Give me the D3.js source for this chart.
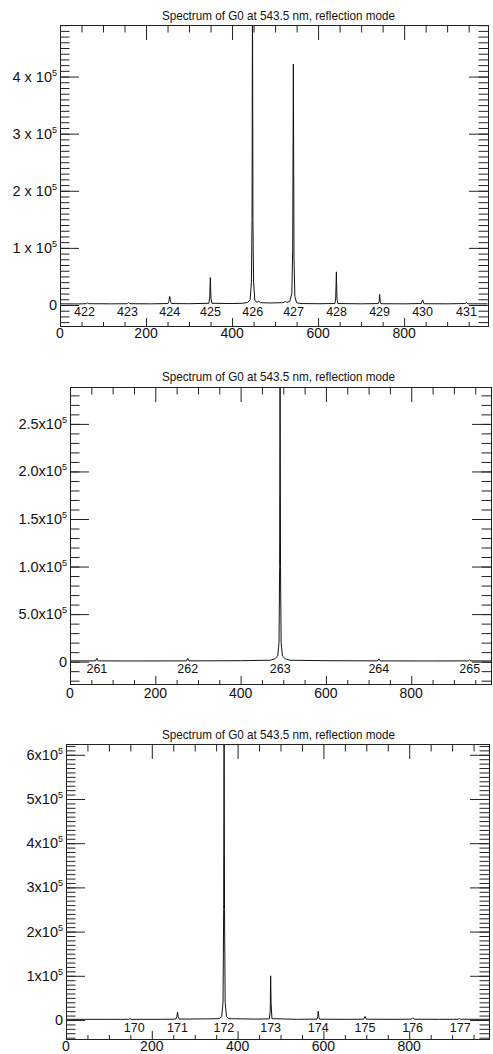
<!DOCTYPE html>
<html>
<head>
<meta charset="utf-8">
<script src="https://cdn.jsdelivr.net/npm/d3@7"></script>
<style>
body { margin: 0; background: #fff; }
svg { display: block; font-family: "Liberation Sans", Arial, sans-serif; }
</style>
</head>
<body>
<svg id="chart" width="493" height="1054"></svg>
<script>
// shared
var titleText = "Spectrum of G0 at 543.5 nm, reflection mode"
var xMajorTicks = [0, 200, 400, 600, 800]
var xMinorTicks = [50, 100, 150, 250, 300, 350, 450, 500, 550, 650, 700, 750, 850, 900, 950]

// panel 1 : 422 - 431
var lineLabels1 = ["422", "423", "424", "425", "426", "427", "428", "429", "430", "431"]
var linePos1    = [57, 157, 255, 350, 448, 543, 643, 743, 843, 945]
var yMajor1     = [0, 100000, 200000, 300000, 400000]
var yLabels1    = ["0", "1 x 10", "2 x 10", "3 x 10", "4 x 10"]
var spectrum1 = [
    [0, 2000], [40, 1800], [61, 2200], [64, 3500], [67, 2200],
    [120, 2000], [156, 2200], [159, 4500], [162, 2200],
    [210, 2000], [251, 2500], [253, 6000], [255, 15000], [257, 6000], [259, 2500],
    [300, 2200], [346, 3000], [348, 12000], [349.5, 48000], [351, 12000], [353, 3000],
    [400, 2500], [425, 3000], [436, 4500], [442, 9000], [445, 40000], [446.5, 150000], [447.5, 560000],
    [448.5, 150000], [450, 40000], [453, 8000], [458, 4500], [462, 6500], [466, 4000],
    [490, 3500], [515, 4000], [521, 4500], [524, 7000], [527, 4500], [534, 6000], [539, 20000],
    [541, 100000], [542.5, 422000], [544, 80000], [546, 15000], [550, 4000], [560, 2500],
    [600, 2200], [639, 2500], [641, 12000], [642.5, 58000], [644, 10000], [646, 2500],
    [700, 2000], [740, 2500], [742, 6000], [743, 18500], [744.5, 5000], [746, 2200],
    [800, 2000], [840, 2500], [843, 9000], [846, 2200],
    [900, 2000], [942, 2500], [945, 4500], [948, 2000], [994, 2000]
]

// panel 2 : 261 - 265
var lineLabels2 = ["261", "262", "263", "264", "265"]
var linePos2    = [63, 276, 493, 724, 937]
var yMajor2     = [0, 50000, 100000, 150000, 200000, 250000]
var yLabels2    = ["0", "5.0x10", "1.0x10", "1.5x10", "2.0x10", "2.5x10"]
var spectrum2 = [
    [0, 800], [60, 800], [63, 3500], [66, 800], [150, 700],
    [273, 800], [276, 3500], [279, 800],
    [400, 1000], [470, 1500], [480, 3000], [487, 6000], [490, 20000], [491.5, 100000],
    [492.5, 330000], [493.5, 100000], [495, 20000], [498, 6000], [505, 3000], [515, 1500], [600, 1000],
    [721, 800], [724, 3000], [727, 800], [850, 700], [934, 800], [937, 1800], [940, 800], [990, 700]
]

// panel 3 : 170 - 177
var lineLabels3 = ["170", "171", "172", "173", "174", "175", "176", "177"]
var linePos3    = [159, 260, 368, 477, 588, 697, 808, 919]
var yMajor3     = [0, 100000, 200000, 300000, 400000, 500000, 600000]
var yLabels3    = ["0", "1x10", "2x10", "3x10", "4x10", "5x10", "6x10"]
var spectrum3 = [
    [0, 1500], [100, 1500], [146, 1500], [149, 3500], [152, 1500], [220, 1500],
    [256, 2000], [258.5, 8000], [260, 18000], [261.5, 8000], [264, 2000],
    [330, 2500], [358, 3000], [363, 8000], [366, 40000], [367.5, 250000], [368.5, 700000],
    [369.5, 250000], [371, 40000], [374, 8000], [380, 3000],
    [440, 2000], [474, 2500], [476, 20000], [477, 100000], [478, 40000], [480, 3000],
    [540, 1500], [585, 2000], [587, 8000], [588, 20000], [589.5, 6000], [591, 1800],
    [650, 1500], [694, 1800], [697, 8000], [700, 1800], [760, 1500],
    [805, 1800], [808, 5000], [811, 1800], [870, 1500], [914, 1700], [917, 3000], [920, 1700], [990, 1500]
]

class SpectrumPanel
{
    constructor(config)
    {
        this.config = config
        this.id     = config.id
        this.left   = config.left
        this.right  = config.right
        this.top    = config.top
        this.bottom = config.bottom
    }

    build()
    {
        var c = this.config
        var svg = d3.select("#chart")
        var g = svg.append("g")

        var x = d3.scaleLinear().domain([0, c.xMax]).range([this.left, this.right])
        var y = d3.scaleLinear().domain([c.yMin, c.yMax]).range([this.bottom, this.top])

        svg.append("clipPath").attr("id", "clip" + this.id)
            .append("rect")
            .attr("x", this.left).attr("y", this.top)
            .attr("width", this.right - this.left).attr("height", this.bottom - this.top)

        // spectrum
        var line = d3.line().x(function(d){return x(d[0])}).y(function(d){return y(d[1])})
        g.append("path")
            .datum(c.spectrum)
            .attr("clip-path", "url(#clip" + this.id + ")")
            .attr("d", line)
            .attr("fill", "none")
            .attr("stroke", "#111")
            .attr("stroke-width", 1)

        var yMinor = d3.range(Math.ceil(c.yMin / 10000) * 10000, c.yMax, 10000)

        var addAxis = function(axis, tx, ty)
        {
            var a = g.append("g")
                .attr("transform", "translate(" + tx + "," + ty + ")")
                .call(axis)
            a.select(".domain").remove()
            a.selectAll("line").attr("stroke", "#222")
        }

        // left / right (ticks inward)
        addAxis(d3.axisRight(y).tickValues(yMinor).tickSize(9.5).tickFormat(""), this.left, 0)
        addAxis(d3.axisRight(y).tickValues(c.yMajor).tickSize(19).tickFormat(""), this.left, 0)
        addAxis(d3.axisLeft(y).tickValues(yMinor).tickSize(9.5).tickFormat(""), this.right, 0)
        addAxis(d3.axisLeft(y).tickValues(c.yMajor).tickSize(19).tickFormat(""), this.right, 0)
        // top / bottom
        addAxis(d3.axisBottom(x).tickValues(xMinorTicks).tickSize(7.5).tickFormat(""), 0, this.top)
        addAxis(d3.axisBottom(x).tickValues(xMajorTicks).tickSize(15).tickFormat(""), 0, this.top)
        addAxis(d3.axisTop(x).tickValues(xMinorTicks).tickSize(4).tickFormat(""), 0, this.bottom)
        addAxis(d3.axisTop(x).tickValues(xMajorTicks).tickSize(8).tickFormat(""), 0, this.bottom)

        // frame
        g.append("rect")
            .attr("x", this.left + 0.5).attr("y", this.top + 0.5)
            .attr("width", this.right - this.left).attr("height", this.bottom - this.top)
            .attr("fill", "none").attr("stroke", "#222").attr("stroke-width", 1)

        // x labels
        g.selectAll(".xlab")
            .data(xMajorTicks)
            .enter()
                .append("text")
                .attr("x", function(d){return x(d)})
                .attr("y", c.xLabelY)
                .attr("text-anchor", "middle")
                .attr("font-size", 14)
                .attr("fill", "#111")
                .text(function(d){return d})

        // y labels with exponent
        var left = this.left
        var labels = g.selectAll(".ylab")
            .data(c.yMajor)
            .enter()
                .append("text")
                .attr("x", left - 3)
                .attr("y", function(d){return y(d) + 5})
                .attr("text-anchor", "end")
                .attr("font-size", 14.5)
                .attr("fill", "#111")
        labels.append("tspan").text(function(d, i){return c.yLabels[i]})
        labels.filter(function(d){return d != 0})
            .append("tspan")
            .attr("dy", -6)
            .attr("font-size", 9)
            .text("5")

        // wavelength markers
        g.selectAll(".wl")
            .data(c.linePos)
            .enter()
                .append("text")
                .attr("x", function(d){return x(d)})
                .attr("y", c.lineLabelY)
                .attr("text-anchor", "middle")
                .attr("font-size", 12.5)
                .attr("fill", "#111")
                .text(function(d, i){return c.lineLabels[i]})

        // title
        g.append("text")
            .attr("x", 278.5)
            .attr("y", c.titleY)
            .attr("text-anchor", "middle")
            .attr("font-size", 13.5)
            .attr("textLength", 233)
            .attr("lengthAdjust", "spacingAndGlyphs")
            .attr("fill", "#111")
            .text(titleText)
    }
}

new SpectrumPanel({id: 1, left: 60, right: 488, top: 25, bottom: 326,
    xMax: 995, yMin: -36800, yMax: 490300,
    spectrum: spectrum1, yMajor: yMajor1, yLabels: yLabels1,
    lineLabels: lineLabels1, linePos: linePos1,
    titleY: 20, xLabelY: 338, lineLabelY: 316}).build()

new SpectrumPanel({id: 2, left: 70, right: 491, top: 387, bottom: 684,
    xMax: 987, yMin: -23500, yMax: 288800,
    spectrum: spectrum2, yMajor: yMajor2, yLabels: yLabels2,
    lineLabels: lineLabels2, linePos: linePos2,
    titleY: 381, xLabelY: 698, lineLabelY: 672.5}).build()

new SpectrumPanel({id: 3, left: 66, right: 489, top: 744, bottom: 1039,
    xMax: 986, yMin: -43000, yMax: 624400,
    spectrum: spectrum3, yMajor: yMajor3, yLabels: yLabels3,
    lineLabels: lineLabels3, linePos: linePos3,
    titleY: 739, xLabelY: 1050.5, lineLabelY: 1031.5}).build()
</script>
</body>
</html>
